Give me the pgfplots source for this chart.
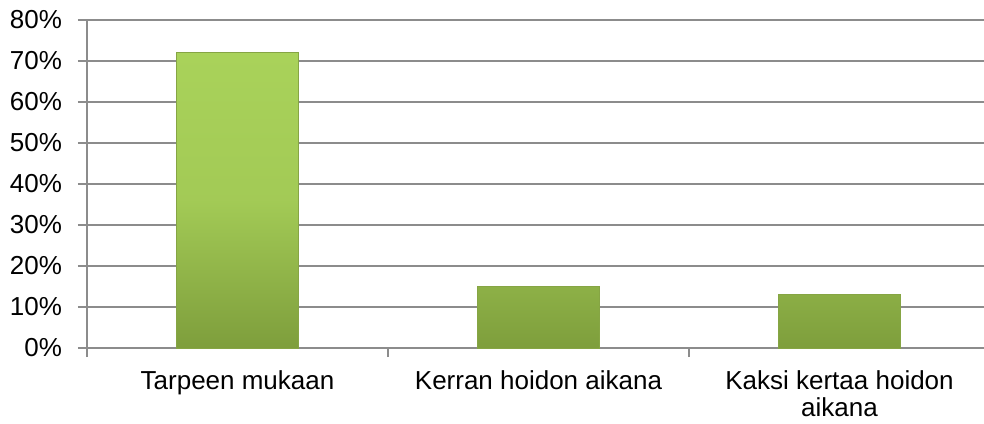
\documentclass[border=0pt]{standalone}
\usepackage{pgfplots}
\pgfplotsset{compat=1.18}
\usepackage{fontspec}
\setmainfont{Liberation Sans}
\definecolor{gridgray}{HTML}{8C8C8C}
\definecolor{bartop}{HTML}{A9D25A}
\definecolor{barbot}{HTML}{7E9E3C}
\definecolor{baredge}{HTML}{86A544}
\begin{document}
\begin{tikzpicture}
\fontsize{13}{13.5}\selectfont
\begin{axis}[
  scale only axis,
  width=448.5pt, height=164pt,
  xmin=-0.5, xmax=2.48,
  ymin=0, ymax=80,
  ytick={0,10,...,80},
  yticklabel={\pgfmathprintnumber{\tick}\%},
  /pgf/number format/assume math mode=true,
  ymajorgrids,
  grid style={gridgray, line width=0.6pt},
  axis x line*=bottom,
  axis y line*=left,
  axis line style={gridgray, line width=0.6pt},
  xtick={0,1,2},
  xticklabels={Tarpeen mukaan, Kerran hoidon aikana, {Kaksi kertaa hoidon\\aikana}},
  xticklabel style={align=center, font=\fontsize{13}{13.5}\selectfont, yshift=-2.5pt},
  yticklabel style={font=\fontsize{13}{13.5}\selectfont, xshift=-3.5pt},
  minor xtick={-0.5,0.5,1.5,2.5},
  tick align=outside,
  major tick length=4.5pt,
  minor tick length=4.5pt,
  x tick style={draw=none},
  minor x tick style={draw=gridgray, line width=0.6pt},
  y tick style={gridgray, line width=0.6pt},
  ybar, bar width=61pt,
  clip=false,
]
\addplot[draw=baredge, line width=0.5pt, top color=bartop, bottom color=barbot, middle color=bartop!85!barbot]
  coordinates {(0,72) (1,15) (2,13)};
\coordinate (O) at (rel axis cs:0,0);
\end{axis}
\pgfresetboundingbox
\path (O) ++(-43.5pt,-37.5pt) rectangle ++(492pt,211.5pt);
\end{tikzpicture}
\end{document}
